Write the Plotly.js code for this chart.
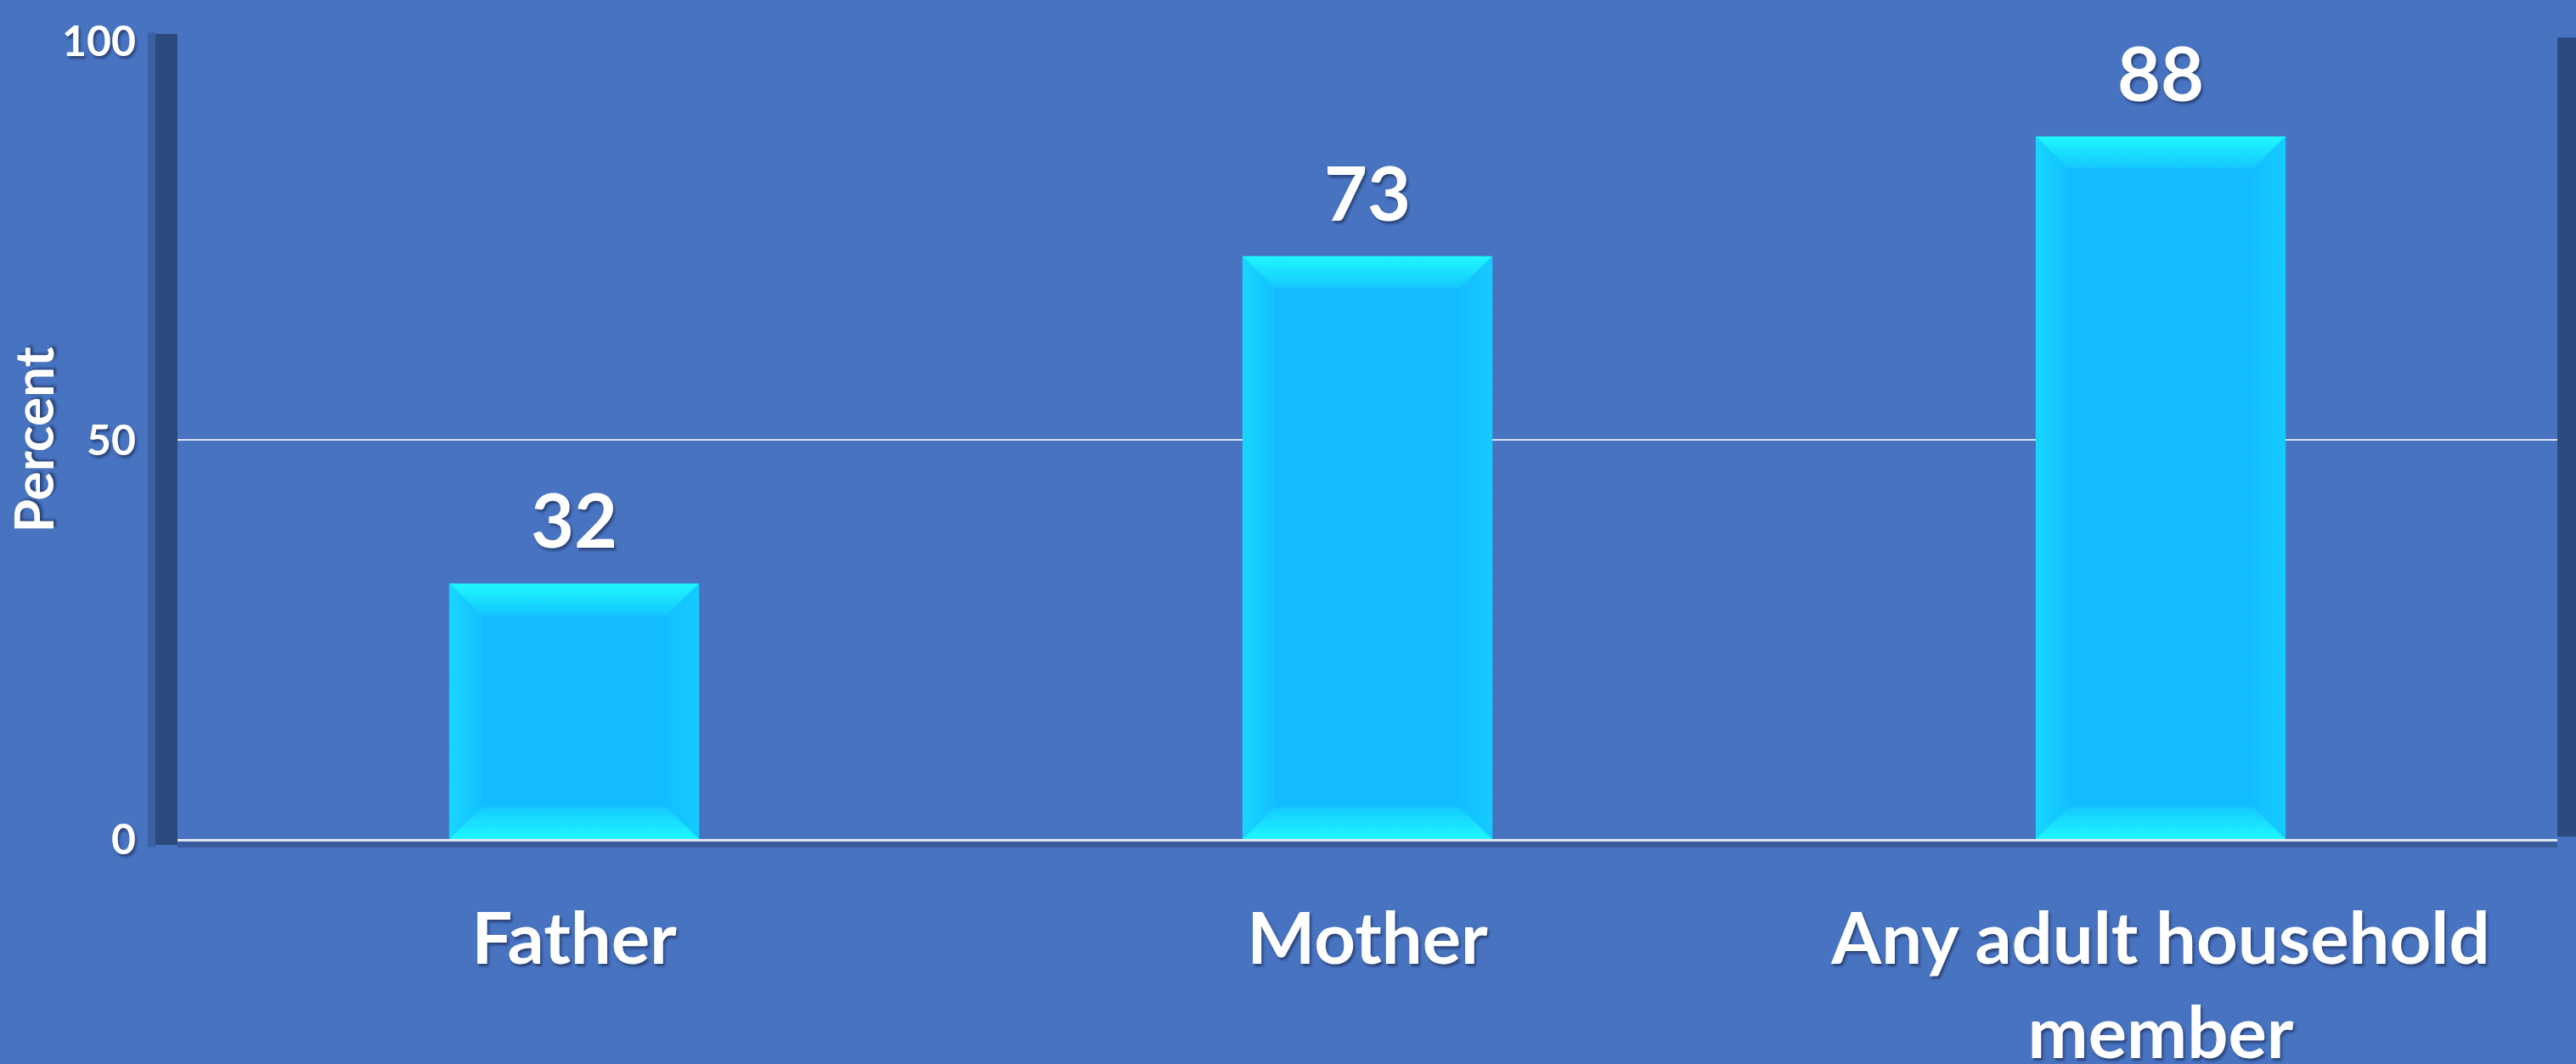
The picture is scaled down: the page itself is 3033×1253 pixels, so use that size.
<!DOCTYPE html>
<html>
<head>
<meta charset="utf-8">
<script src="https://cdn.plot.ly/plotly-3.0.1.min.js"></script>
<style>
  html, body { margin: 0; padding: 0; background: #4773C1; }
  #chart { width: 3033px; height: 1253px; }
</style>
</head>
<body>
<div id="chart"></div>
<script>
// ---- data ----
const categories = ['Father', 'Mother', 'Any adult household<br>member'];
const values = [32, 73, 88];
const valueLabels = ['32', '73', '88'];
const yTickVals = [0, 50, 100];
const yTickText = ['0', '50', '100'];
const yTitle = 'Percent';

// ---- style ----
const BG = '#4773C1';
const SHADOW = '#2D4A7E';
const BODY = '#12BCFF';
const BRIGHT = '#1EF8FF';
const FONT = 'Lato, "Open Sans", sans-serif';
const TXT_SHADOW = '2px 3px 3px rgba(20,30,60,0.55)';
const BAR_W = 0.315;       // category units
const BEV_X = 0.041;       // bevel width, category units
const BEV_Y = 4.0;         // bevel height, y units

const traces = [];

traces.push({
  type: 'bar',
  x: categories,
  y: values,
  width: BAR_W,
  marker: { color: BODY, line: { width: 0 } },
  hoverinfo: 'skip'
});

// bevel decoration derived from the data values (overlay axis x2, same range)
const h = BAR_W / 2;
values.forEach(function (v, i) {
  const c = i;
  // top band
  traces.push({
    type: 'scatter', mode: 'none', xaxis: 'x2', yaxis: 'y', fill: 'toself',
    x: [c - h, c + h, c + h - BEV_X, c - h + BEV_X, c - h],
    y: [v, v, v - BEV_Y, v - BEV_Y, v],
    fillcolor: BRIGHT,
    fillgradient: { type: 'vertical', colorscale: [[0, '#14C6FF'], [1, BRIGHT]] },
    hoverinfo: 'skip'
  });
  // bottom band
  traces.push({
    type: 'scatter', mode: 'none', xaxis: 'x2', yaxis: 'y', fill: 'toself',
    x: [c - h, c + h, c + h - BEV_X, c - h + BEV_X, c - h],
    y: [0, 0, BEV_Y, BEV_Y, 0],
    fillcolor: BRIGHT,
    fillgradient: { type: 'vertical', colorscale: [[0, BRIGHT], [1, '#14C8FF']] },
    hoverinfo: 'skip'
  });
  // left side
  traces.push({
    type: 'scatter', mode: 'none', xaxis: 'x2', yaxis: 'y', fill: 'toself',
    x: [c - h, c - h + BEV_X, c - h + BEV_X, c - h, c - h],
    y: [0, BEV_Y, v - BEV_Y, v, 0],
    fillcolor: '#15CCFF',
    fillgradient: { type: 'horizontal', colorscale: [[0, '#18D6FF'], [1, '#13C0FF']] },
    hoverinfo: 'skip'
  });
  // right side
  traces.push({
    type: 'scatter', mode: 'none', xaxis: 'x2', yaxis: 'y', fill: 'toself',
    x: [c + h, c + h - BEV_X, c + h - BEV_X, c + h, c + h],
    y: [0, BEV_Y, v - BEV_Y, v, 0],
    fillcolor: '#14C6FF',
    fillgradient: { type: 'horizontal', colorscale: [[0, '#13BFFF'], [1, '#15CBFF']] },
    hoverinfo: 'skip'
  });
});

// value labels
traces.push({
  type: 'scatter',
  mode: 'markers+text',
  x: categories,
  y: values,
  text: valueLabels,
  textposition: 'top center',
  marker: { size: 30, opacity: 0 },
  textfont: { family: FONT, size: 88, color: '#FFFFFF', weight: 'bold', shadow: TXT_SHADOW },
  hoverinfo: 'skip',
  cliponaxis: false
});

const layout = {
  width: 3033,
  height: 1253,
  paper_bgcolor: BG,
  plot_bgcolor: BG,
  showlegend: false,
  margin: { l: 209, r: 22, t: 48, b: 265, pad: 0 },
  font: { family: FONT, color: '#FFFFFF' },
  xaxis: {
    type: 'category',
    range: [-0.5, 2.5],
    showgrid: false,
    showline: true,
    linecolor: '#DDE4F0',
    linewidth: 3,
    ticks: '',
    ticklabelstandoff: 42,
    tickfont: { family: FONT, size: 85, color: '#FFFFFF', weight: 'bold', shadow: TXT_SHADOW },
    automargin: false,
    fixedrange: true
  },
  xaxis2: {
    overlaying: 'x',
    range: [-0.5, 2.5],
    visible: false,
    fixedrange: true
  },
  yaxis: {
    range: [0, 100],
    tickvals: yTickVals,
    ticktext: yTickText,
    showgrid: true,
    gridcolor: '#DDE4F0',
    gridwidth: 2,
    zeroline: false,
    showline: false,
    ticks: '',
    ticklabelstandoff: 48,
    tickfont: { family: FONT, size: 50, color: '#FFFFFF', weight: 'bold', shadow: TXT_SHADOW },
    title: {
      text: yTitle,
      standoff: 10,
      font: { family: FONT, size: 64, color: '#FFFFFF', weight: 'bold', shadow: TXT_SHADOW }
    },
    automargin: false,
    fixedrange: true
  },
  shapes: [
    // plot-area drop shadow bands (decoration)
    { type: 'rect', xref: 'paper', yref: 'paper', layer: 'below',
      x0: -0.0125, x1: -0.0093, y0: -0.010, y1: 1.010,
      fillcolor: 'rgba(45,74,126,0.45)', line: { width: 0 } },
    { type: 'rect', xref: 'paper', yref: 'paper', layer: 'below',
      x0: -0.0093, x1: 0, y0: -0.0075, y1: 1.0085,
      fillcolor: SHADOW, line: { width: 0 } },
    { type: 'rect', xref: 'paper', yref: 'paper', layer: 'below',
      x0: 1, x1: 1.0079, y0: 0.003, y1: 1.004,
      fillcolor: SHADOW, line: { width: 0 } },
    { type: 'rect', xref: 'paper', yref: 'paper', layer: 'below',
      x0: 0, x1: 1, y0: -0.011, y1: 0,
      fillcolor: 'rgba(45,74,126,0.55)', line: { width: 0 } }
  ]
};

Plotly.newPlot('chart', traces, layout, { displayModeBar: false, staticPlot: true });
</script>
</body>
</html>
